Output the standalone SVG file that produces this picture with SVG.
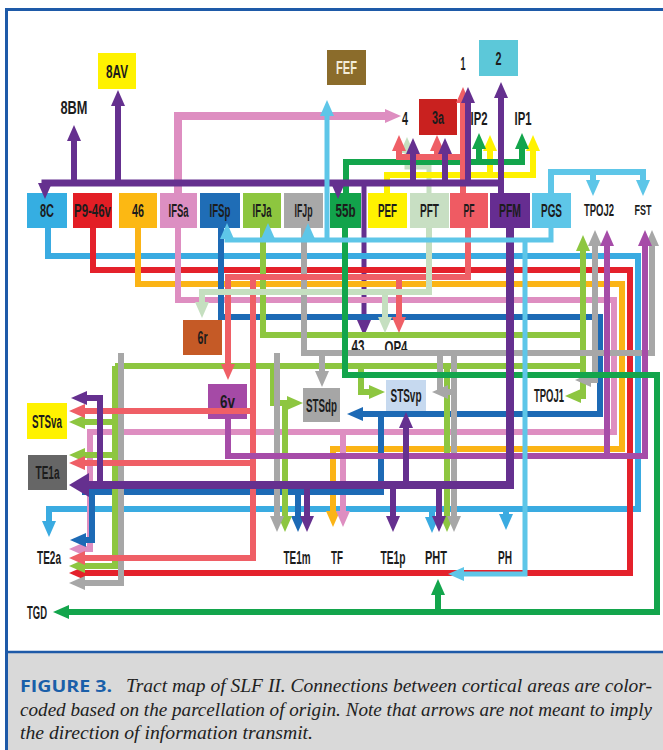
<svg xmlns="http://www.w3.org/2000/svg" width="663" height="750" viewBox="0 0 663 750">
<defs>
<style>
.ln{fill:none;stroke-width:6;stroke-linejoin:miter;stroke-linecap:butt}
.w5{stroke-width:5}.w7{stroke-width:7}.w8{stroke-width:8}
.lb{stroke:#3aabe1}.pg{stroke:#5ec6e8}.rd{stroke:#e4212b}.or{stroke:#fbb416}.pk{stroke:#de8ec1}.db{stroke:#1d6ab5}.lg{stroke:#8dc640}.gy{stroke:#a7a7a7}.sa{stroke:#ef5f66}.pl{stroke:#c5dfc0}.mg{stroke:#a64ca8}.gn{stroke:#13a54c}.pu{stroke:#65308f}.ye{stroke:#fff200}
.alb{marker-end:url(#k-lb)}.apg{marker-end:url(#k-pg)}.ard{marker-end:url(#k-rd)}.aor{marker-end:url(#k-or)}.apk{marker-end:url(#k-pk)}.adb{marker-end:url(#k-db)}.alg{marker-end:url(#k-lg)}.agy{marker-end:url(#k-gy)}.asa{marker-end:url(#k-sa)}.apl{marker-end:url(#k-pl)}.amg{marker-end:url(#k-mg)}.agn{marker-end:url(#k-gn)}.apu{marker-end:url(#k-pu)}.aye{marker-end:url(#k-ye)}.abig{marker-end:url(#k-big)}
.t{font-family:"Liberation Sans",Arial,sans-serif;font-weight:bold;font-size:18px;fill:#1c1c1c;text-anchor:middle}
.s{font-size:16px}.xs{font-size:14px}
.cap{font-family:"Liberation Serif","Times New Roman",serif;font-style:italic;font-size:19px;fill:#222}
</style>
<marker id="k-lb" markerUnits="userSpaceOnUse" viewBox="0 0 16 14" markerWidth="16" markerHeight="14" refX="1" refY="7" orient="auto"><path d="M0,0 L16,7 L0,14 z" fill="#3aabe1"/></marker>
<marker id="k-pg" markerUnits="userSpaceOnUse" viewBox="0 0 16 14" markerWidth="16" markerHeight="14" refX="1" refY="7" orient="auto"><path d="M0,0 L16,7 L0,14 z" fill="#5ec6e8"/></marker>
<marker id="k-rd" markerUnits="userSpaceOnUse" viewBox="0 0 16 14" markerWidth="16" markerHeight="14" refX="1" refY="7" orient="auto"><path d="M0,0 L16,7 L0,14 z" fill="#e4212b"/></marker>
<marker id="k-or" markerUnits="userSpaceOnUse" viewBox="0 0 16 14" markerWidth="16" markerHeight="14" refX="1" refY="7" orient="auto"><path d="M0,0 L16,7 L0,14 z" fill="#fbb416"/></marker>
<marker id="k-pk" markerUnits="userSpaceOnUse" viewBox="0 0 16 14" markerWidth="16" markerHeight="14" refX="1" refY="7" orient="auto"><path d="M0,0 L16,7 L0,14 z" fill="#de8ec1"/></marker>
<marker id="k-db" markerUnits="userSpaceOnUse" viewBox="0 0 16 14" markerWidth="16" markerHeight="14" refX="1" refY="7" orient="auto"><path d="M0,0 L16,7 L0,14 z" fill="#1d6ab5"/></marker>
<marker id="k-lg" markerUnits="userSpaceOnUse" viewBox="0 0 16 14" markerWidth="16" markerHeight="14" refX="1" refY="7" orient="auto"><path d="M0,0 L16,7 L0,14 z" fill="#8dc640"/></marker>
<marker id="k-gy" markerUnits="userSpaceOnUse" viewBox="0 0 16 14" markerWidth="16" markerHeight="14" refX="1" refY="7" orient="auto"><path d="M0,0 L16,7 L0,14 z" fill="#a7a7a7"/></marker>
<marker id="k-sa" markerUnits="userSpaceOnUse" viewBox="0 0 16 14" markerWidth="16" markerHeight="14" refX="1" refY="7" orient="auto"><path d="M0,0 L16,7 L0,14 z" fill="#ef5f66"/></marker>
<marker id="k-pl" markerUnits="userSpaceOnUse" viewBox="0 0 16 14" markerWidth="16" markerHeight="14" refX="1" refY="7" orient="auto"><path d="M0,0 L16,7 L0,14 z" fill="#c5dfc0"/></marker>
<marker id="k-mg" markerUnits="userSpaceOnUse" viewBox="0 0 16 14" markerWidth="16" markerHeight="14" refX="1" refY="7" orient="auto"><path d="M0,0 L16,7 L0,14 z" fill="#a64ca8"/></marker>
<marker id="k-gn" markerUnits="userSpaceOnUse" viewBox="0 0 16 14" markerWidth="16" markerHeight="14" refX="1" refY="7" orient="auto"><path d="M0,0 L16,7 L0,14 z" fill="#13a54c"/></marker>
<marker id="k-pu" markerUnits="userSpaceOnUse" viewBox="0 0 16 14" markerWidth="16" markerHeight="14" refX="1" refY="7" orient="auto"><path d="M0,0 L16,7 L0,14 z" fill="#65308f"/></marker>
<marker id="k-ye" markerUnits="userSpaceOnUse" viewBox="0 0 16 14" markerWidth="16" markerHeight="14" refX="1" refY="7" orient="auto"><path d="M0,0 L16,7 L0,14 z" fill="#fff200"/></marker>
<marker id="k-big" markerUnits="userSpaceOnUse" viewBox="0 0 20 24" markerWidth="20" markerHeight="24" refX="1" refY="12" orient="auto"><path d="M0,0 L20,12 L0,24 z" fill="#65308f"/></marker>
</defs>

<rect x="0" y="0" width="663" height="750" fill="#ffffff"/>
<rect x="8" y="652" width="660" height="100" fill="#d9d9d9"/>

<g id="nodes">
<g id="n-8C"><rect x="27" y="193" width="40" height="35" fill="#35aee2"/><text class="t" x="47" y="216.5" textLength="14" lengthAdjust="spacingAndGlyphs">8C</text></g>
<g id="n-P9-46v"><rect x="73" y="193" width="39" height="35" fill="#e31e25"/><text class="t" x="92.5" y="216.5" textLength="37" lengthAdjust="spacingAndGlyphs">P9-46v</text></g>
<g id="n-46"><rect x="119" y="193" width="38" height="35" fill="#fcb813"/><text class="t" x="138" y="216.5" textLength="12" lengthAdjust="spacingAndGlyphs">46</text></g>
<g id="n-IFSa"><rect x="160" y="193" width="37" height="35" fill="#dc8fc2"/><text class="t" x="178.5" y="216.5" textLength="20" lengthAdjust="spacingAndGlyphs">IFSa</text></g>
<g id="n-IFSp"><rect x="200" y="193" width="40" height="35" fill="#1f6db6"/><text class="t" x="220" y="216.5" textLength="21" lengthAdjust="spacingAndGlyphs">IFSp</text></g>
<g id="n-IFJa"><rect x="243" y="193" width="38" height="35" fill="#8dc63f"/><text class="t" x="262" y="216.5" textLength="19" lengthAdjust="spacingAndGlyphs">IFJa</text></g>
<g id="n-IFJp"><rect x="284" y="193" width="39" height="35" fill="#a8a8a8"/><text class="t" x="303.5" y="216.5" textLength="18" lengthAdjust="spacingAndGlyphs">IFJp</text></g>
<g id="n-55b"><rect x="330" y="193" width="31" height="35" fill="#12a34b"/><text class="t" x="345.5" y="216.5" textLength="20" lengthAdjust="spacingAndGlyphs">55b</text></g>
<g id="n-PEF"><rect x="368" y="193" width="39" height="35" fill="#fff200"/><text class="t" x="387.5" y="216.5" textLength="19" lengthAdjust="spacingAndGlyphs">PEF</text></g>
<g id="n-PFT"><rect x="410" y="193" width="39" height="35" fill="#c8dfc3"/><text class="t" x="429.5" y="216.5" textLength="19" lengthAdjust="spacingAndGlyphs">PFT</text></g>
<g id="n-PF"><rect x="450" y="193" width="38" height="35" fill="#ef5b63"/><text class="t" x="469" y="216.5" textLength="11" lengthAdjust="spacingAndGlyphs">PF</text></g>
<g id="n-PFM"><rect x="490" y="193" width="40" height="35" fill="#662d91"/><text class="t" x="510" y="216.5" textLength="22" lengthAdjust="spacingAndGlyphs">PFM</text></g>
<g id="n-PGS"><rect x="532" y="193" width="39" height="35" fill="#5ec6e8"/><text class="t" x="551.5" y="216.5" textLength="21" lengthAdjust="spacingAndGlyphs">PGS</text></g>
<g id="n-TPOJ2"><text class="t s" x="599" y="216" textLength="30" lengthAdjust="spacingAndGlyphs">TPOJ2</text></g>
<g id="n-FST"><text class="t xs" x="643" y="215" textLength="17" lengthAdjust="spacingAndGlyphs">FST</text></g>
<g id="n-8AV"><rect x="98" y="53" width="38" height="36" fill="#fff200"/><text class="t" x="117" y="77.5" textLength="22" lengthAdjust="spacingAndGlyphs">8AV</text></g>
<g id="n-8BM"><text class="t" x="74" y="113.5" textLength="27" lengthAdjust="spacingAndGlyphs">8BM</text></g>
<g id="n-FEF"><rect x="327" y="50" width="39" height="35" fill="#8b6c2b"/><text class="t" x="346.5" y="73.5" textLength="21" lengthAdjust="spacingAndGlyphs" style="fill:#f3ecd8">FEF</text></g>
<g id="n-1"><text class="t" x="463" y="69.5" textLength="5" lengthAdjust="spacingAndGlyphs">1</text></g>
<g id="n-2"><rect x="479" y="40" width="39" height="36" fill="#5cc8d9"/><text class="t" x="498.5" y="64.5" textLength="6" lengthAdjust="spacingAndGlyphs">2</text></g>
<g id="n-4"><text class="t" x="405" y="125" textLength="6" lengthAdjust="spacingAndGlyphs">4</text></g>
<g id="n-3a"><rect x="419" y="99" width="38" height="36" fill="#c9211f"/><text class="t" x="438" y="123.5" textLength="12" lengthAdjust="spacingAndGlyphs">3a</text></g>
<g id="n-IP2"><text class="t" x="479" y="125" textLength="17" lengthAdjust="spacingAndGlyphs">IP2</text></g>
<g id="n-IP1"><text class="t" x="523" y="125" textLength="17" lengthAdjust="spacingAndGlyphs">IP1</text></g>
<g id="n-6r"><rect x="183" y="320" width="39" height="35" fill="#c55a26"/><text class="t" x="202.5" y="344" textLength="10" lengthAdjust="spacingAndGlyphs">6r</text></g>
<g id="n-43"><text class="t" x="358" y="352.5" textLength="13" lengthAdjust="spacingAndGlyphs">43</text></g>
<g id="n-OP4"><text class="t" x="396" y="353.5" textLength="23" lengthAdjust="spacingAndGlyphs">OP4</text></g>
<g id="n-6v"><rect x="208" y="384" width="39" height="35" fill="#a54aa6"/><text class="t" x="227.5" y="408" textLength="15" lengthAdjust="spacingAndGlyphs">6v</text></g>
<g id="n-STSdp"><rect x="303" y="388" width="37" height="34" fill="#a6a6a6"/><text class="t" x="321.5" y="411.5" textLength="31" lengthAdjust="spacingAndGlyphs">STSdp</text></g>
<g id="n-STSvp"><rect x="386" y="380" width="40" height="31" fill="#c6d9ef"/><text class="t" x="406" y="402" textLength="31" lengthAdjust="spacingAndGlyphs">STSvp</text></g>
<g id="n-TPOJ1"><text class="t" x="549" y="401.5" textLength="30" lengthAdjust="spacingAndGlyphs">TPOJ1</text></g>
<g id="n-STSva"><rect x="27" y="403" width="40" height="36" fill="#fff200"/><text class="t" x="47" y="427.5" textLength="30" lengthAdjust="spacingAndGlyphs">STSva</text></g>
<g id="n-TE1a"><rect x="28" y="455" width="39" height="35" fill="#666666"/><text class="t" x="47.5" y="479" textLength="24" lengthAdjust="spacingAndGlyphs">TE1a</text></g>
<g id="n-TE2a"><text class="t" x="49" y="563.5" textLength="24" lengthAdjust="spacingAndGlyphs">TE2a</text></g>
<g id="n-TE1m"><text class="t" x="297" y="563.5" textLength="27" lengthAdjust="spacingAndGlyphs">TE1m</text></g>
<g id="n-TF"><text class="t" x="337" y="563.5" textLength="12" lengthAdjust="spacingAndGlyphs">TF</text></g>
<g id="n-TE1p"><text class="t" x="393" y="563.5" textLength="25" lengthAdjust="spacingAndGlyphs">TE1p</text></g>
<g id="n-PHT"><text class="t" x="436" y="563.5" textLength="22" lengthAdjust="spacingAndGlyphs">PHT</text></g>
<g id="n-PH"><text class="t" x="505" y="563.5" textLength="14" lengthAdjust="spacingAndGlyphs">PH</text></g>
<g id="n-TGD"><text class="t" x="37" y="618.5" textLength="20" lengthAdjust="spacingAndGlyphs">TGD</text></g>
</g>

<g id="connectors">
<path class="ln w5 pl apl" d="M429,193 V167 H407 V152"/>
<path class="ln w8 pk apk" d="M178,193 V116 H386"/>
<path class="ln ye aye" d="M387,193 V175 H533 V150"/>
<path class="ln ye aye" d="M490,175 V150"/>
<path class="ln gn agn" d="M346,193 V162 H522 V148"/>
<path class="ln gn agn" d="M479,162 V148"/>
<path class="ln sa asa" d="M463,193 V102"/>
<path class="ln sa asa" d="M463,157 H399 V150"/>
<path class="ln sa asa" d="M437,157 V150"/>
<path class="ln w7 pu apu" d="M501,183 H45 V184"/>
<path class="ln pu apu" d="M501,193 V97"/>
<path class="ln pu apu" d="M74,183 V140"/>
<path class="ln pu apu" d="M118,183 V105"/>
<path class="ln pu apu" d="M338,183 V184"/>
<path class="ln w5 pu apu" d="M364,183 V321"/>
<path class="ln pu apu" d="M413,183 V153"/>
<path class="ln pu apu" d="M445,183 V153"/>
<path class="ln pu apu" d="M468,183 V102"/>
<path class="ln pg apg" d="M551,193 V172 H643 V181"/>
<path class="ln pg apg" d="M593,172 V181"/>
<path class="ln lb alb" d="M48,228 V256 H638 V509 H49 V522"/>
<path class="ln lb alb" d="M506,509 V515"/>
<path class="ln lb alb" d="M432,509 V518"/>
<path class="ln rd ard" d="M93,228 V270 H630 V573 H84"/>
<path class="ln or aor" d="M138,228 V284 H622 V449 H333 V512"/>
<path class="ln pk apk" d="M178,228 V300 H614 V432 H90 V549 H84"/>
<path class="ln pk apk" d="M343,432 V512"/>
<path class="ln db adb" d="M221,228 V317 H600 V414 H362"/>
<path class="ln db" d="M381,414 V492 H82"/>
<path class="ln db adb" d="M298,492 V517"/>
<path class="ln db adb" d="M92,492 V540 H85"/>
<path class="ln lg alg" d="M263,228 V335 H583 V250"/>
<path class="ln lg alg" d="M583,335 V396 H580"/>
<path class="ln lg" d="M115,366 H583"/>
<path class="ln lg alg" d="M115,366 V566 H84"/>
<path class="ln lg alg" d="M115,422 H84"/>
<path class="ln lg alg" d="M115,455 H84"/>
<path class="ln lg alg" d="M273,366 V403 H288"/>
<path class="ln lg alg" d="M285,403 V517"/>
<path class="ln lg alg" d="M361,366 V392 H370"/>
<path class="ln lg alg" d="M447,366 V517"/>
<path class="ln gy agy" d="M304,228 V353 H652 V245"/>
<path class="ln gy agy" d="M595,380 V245"/>
<path class="ln gy agy" d="M595,353 V380 H590"/>
<path class="ln gy agy" d="M121,353 V583 H84"/>
<path class="ln gy agy" d="M277,353 V517"/>
<path class="ln gy agy" d="M322,353 V372"/>
<path class="ln gy" d="M440,353 V392"/>
<path class="ln gy agy" d="M452,392 H447"/>
<path class="ln gy agy" d="M454,353 V517"/>
<path class="ln sa asa" d="M468,228 V277 H228 V365"/>
<path class="ln sa asa" d="M399,277 V318"/>
<path class="ln sa asa" d="M253,277 V558 H84"/>
<path class="ln sa asa" d="M253,411 H84"/>
<path class="ln sa asa" d="M253,463 H84"/>
<path class="ln pl apl" d="M429,228 V292 H202 V303"/>
<path class="ln pl apl" d="M385,292 V318"/>
<path class="ln mg amg" d="M228,419 V456 H645 V245"/>
<path class="ln mg amg" d="M607,456 V245"/>
<path class="ln gn agn" d="M345,228 V375 H657 V612 H68"/>
<path class="ln gn agn" d="M438,612 V594"/>
<path class="ln w8 pu abig" d="M510,228 V485 H88"/>
<path class="ln pu apu" d="M100,485 V398 H86"/>
<path class="ln pu apu" d="M307,485 V517"/>
<path class="ln pu apu" d="M393,485 V517"/>
<path class="ln pu apu" d="M439,485 V517"/>
<path class="ln pu apu" d="M406,485 V427"/>
<path class="ln w5 pg apg" d="M551,228 V240 H227 V238"/>
<path class="ln w5 pg apg" d="M268,240 V238"/>
<path class="ln w5 pg apg" d="M308,240 V238"/>
<path class="ln w5 pg apg" d="M327,240 V115"/>
<path class="ln w5 pg apg" d="M525,240 V574 H463"/>
</g>

<g id="caption">
<line x1="8" y1="652" x2="663" y2="652" stroke="#1e5aa8" stroke-width="2.5"/>
<text x="20" y="692" font-family="'Open Sans','Liberation Sans',sans-serif" font-weight="bold" font-size="16" fill="#1a5fa9" textLength="92" lengthAdjust="spacingAndGlyphs">FIGURE 3.</text>
<text class="cap" x="126" y="692" textLength="526" lengthAdjust="spacingAndGlyphs">Tract map of SLF II. Connections between cortical areas are color-</text>
<text class="cap" x="20" y="716" textLength="632" lengthAdjust="spacingAndGlyphs">coded based on the parcellation of origin. Note that arrows are not meant to imply</text>
<text class="cap" x="20" y="739" textLength="293" lengthAdjust="spacingAndGlyphs">the direction of information transmit.</text>
</g>
<rect x="6.5" y="9.5" width="700" height="800" fill="none" stroke="#1e5aa8" stroke-width="3"/>
</svg>
